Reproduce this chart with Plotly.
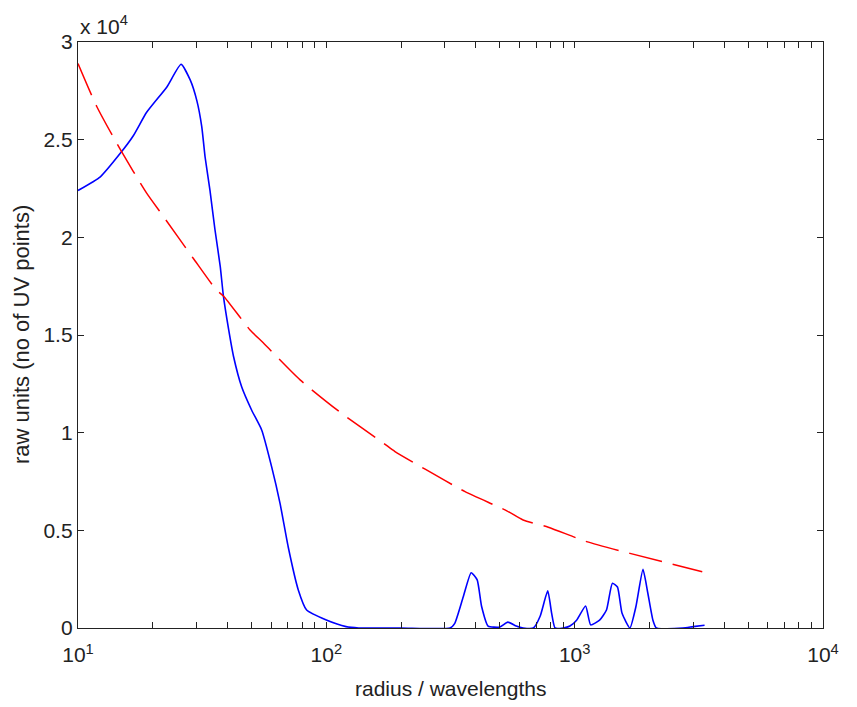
import plotly.graph_objects as go

# Blue solid curve: radius (wavelengths) vs raw units
blue_r = [10, 12.3, 14.8, 16.7, 18.9, 22.8, 26.0, 28.3, 30.1, 31.5, 32.5, 34.0, 35.6, 37.4,
          38.5, 40.4, 42.3, 45.6, 50.0, 54.9, 60.2, 65.1, 70.2, 77.1, 83.3, 100, 120, 135,
          200, 315, 329, 356, 383, 405, 422, 448, 500, 538, 582, 620, 682, 726, 779, 808,
          834, 900, 957, 1018, 1107, 1160, 1260, 1343, 1419, 1487, 1552, 1669, 1765, 1884,
          1971, 2066, 2133, 2728, 3000, 3335]
blue_v = [22400, 23100, 24300, 25200, 26400, 27700, 28860, 28060, 27000, 25670, 24100, 22400,
          20400, 18500, 17000, 15300, 13900, 12350, 11160, 10140, 8260, 6380, 4160, 1950, 920,
          410, 70, 0, 0, 0, 240, 1600, 2830, 2460, 1100, 100, 50, 300, 100, 0, 0, 600, 1900,
          750, 0, 0, 100, 400, 1130, 160, 400, 920, 2290, 2100, 750, 0, 1100, 3000, 1780, 400,
          0, 0, 70, 140]

# Red dashed curve
red_r = [10, 11.9, 14.8, 18.9, 22.1, 29.1, 36.1, 38.5, 49.3, 55.7, 78.4, 113, 170, 189, 250,
         362, 533, 620, 783, 1117, 1670, 3264]
red_v = [28900, 26700, 24500, 22260, 21060, 18930, 17300, 17000, 15260, 14600, 12700, 11070,
         9460, 9030, 8130, 6980, 6000, 5530, 5160, 4420, 3820, 2880]

x_tickvals = [10, 100, 1000, 10000]
x_ticktext = ["10<sup>1</sup>", "10<sup>2</sup>", "10<sup>3</sup>", "10<sup>4</sup>"]
y_tickvals = [0, 5000, 10000, 15000, 20000, 25000, 30000]
y_ticktext = ["0", "0.5", "1", "1.5", "2", "2.5", "3"]

FONT = "Liberation Sans, Arial, sans-serif"
INK = "#222222"

fig = go.Figure()
fig.add_trace(go.Scatter(x=blue_r, y=blue_v, mode="lines",
                         line=dict(color="#0000ff", width=1.6, shape="spline", smoothing=0.5),
                         showlegend=False))
fig.add_trace(go.Scatter(x=red_r, y=red_v, mode="lines",
                         line=dict(color="#ff0000", width=1.5, dash="34px,11px",
                                   shape="spline", smoothing=0.6),
                         showlegend=False))

axis_common = dict(showline=True, linecolor=INK, linewidth=1.3, mirror="ticks",
                   ticks="inside", ticklen=6, tickcolor=INK, tickwidth=1.2,
                   showgrid=False, zeroline=False,
                   tickfont=dict(family=FONT, size=21, color=INK))

fig.update_xaxes(type="log", range=[1, 4], tickvals=x_tickvals, ticktext=x_ticktext,
                 ticklabelstandoff=8,
                 minor=dict(ticks="inside", ticklen=6, tickcolor=INK, tickwidth=1.2,
                            dtick="D1", showgrid=False),
                 **axis_common)
fig.update_yaxes(range=[0, 30000], tickvals=y_tickvals, ticktext=y_ticktext, **axis_common)

fig.add_annotation(text="x 10<sup>4</sup>", xref="paper", yref="paper", x=0, y=1,
                   xanchor="left", yanchor="bottom", yshift=2, showarrow=False,
                   font=dict(family=FONT, size=21, color=INK))
fig.add_annotation(text="radius / wavelengths", xref="paper", yref="paper", x=0.5, y=0,
                   xanchor="center", yanchor="middle", yshift=-60, showarrow=False,
                   font=dict(family=FONT, size=21, color=INK))
fig.add_annotation(text="raw units (no of UV points)", xref="paper", yref="paper", x=0, y=0.5,
                   xanchor="center", yanchor="middle", xshift=-57, textangle=-90,
                   showarrow=False, font=dict(family=FONT, size=22, color=INK))

# page body has an 8px default margin: size the figure so the plot box lands where it should
fig.update_layout(width=849, height=699, paper_bgcolor="white", plot_bgcolor="white",
                  margin=dict(l=70, r=34, t=34, b=79),
                  font=dict(family=FONT, size=21, color=INK))

fig.write_html("out.html")
